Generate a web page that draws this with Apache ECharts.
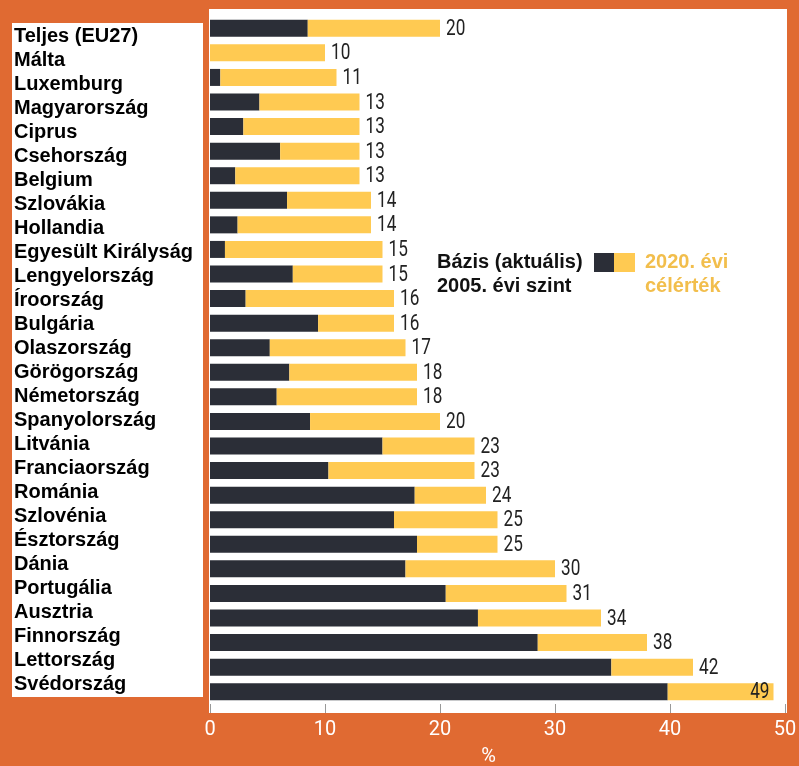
<!DOCTYPE html>
<html><head><meta charset="utf-8">
<script src="https://cdn.jsdelivr.net/npm/echarts@6/dist/echarts.min.js"></script>
<style>html,body{margin:0;padding:0;background:#E06A32;}#c{width:799px;height:766px;}</style>
</head><body><div id="c"></div>
<script>
const categories = ["Teljes (EU27)","Málta","Luxemburg","Magyarország","Ciprus","Csehország","Belgium","Szlovákia","Hollandia","Egyesült Királyság","Lengyelország","Íroország","Bulgária","Olaszország","Görögország","Németország","Spanyolország","Litvánia","Franciaország","Románia","Szlovénia","Észtország","Dánia","Portugália","Ausztria","Finnország","Lettország","Svédország"];
const base2005 = [8.5,0.0,0.9,4.3,2.9,6.1,2.2,6.7,2.4,1.3,7.2,3.1,9.4,5.2,6.9,5.8,8.7,15.0,10.3,17.8,16.0,18.0,17.0,20.5,23.3,28.5,34.9,39.8];
const target2020 = [20,10,11,13,13,13,13,14,14,15,15,16,16,17,18,18,20,23,23,24,25,25,30,31,34,38,42,49];
const xTicks = [0,10,20,30,40,50];

const DARK = '#2B2E37', YEL = '#FFCA52', ORANGE = '#E06A32';
const BOLD = '"Liberation Sans",Arial,sans-serif';
const chart = echarts.init(document.getElementById('c'));
const gap = target2020.map((t,i)=>+(t-base2005[i]).toFixed(2));
chart.setOption({
  backgroundColor: ORANGE,
  animation: false,
  graphic: [
    {type:'rect', shape:{x:209,y:9,width:578,height:704}, style:{fill:'#fff'}, z:-10},
    {type:'rect', shape:{x:12,y:23,width:191,height:674}, style:{fill:'#fff'}, z:-10},
    {type:'text', left:437, top:250, style:{text:'Bázis (aktuális)\n2005. évi szint', font:'bold 20px '+BOLD, fill:'#111', lineHeight:24}},
    {type:'rect', shape:{x:594,y:253,width:20,height:19}, style:{fill:DARK}},
    {type:'rect', shape:{x:614,y:253,width:21,height:19}, style:{fill:YEL}},
    {type:'text', left:645, top:250, style:{text:'2020. évi\ncélérték', font:'bold 20px '+BOLD, fill:'#F2BE4C', lineHeight:24}}
  ],
  grid: [
    {left:210, right:14, top:16, bottom:62, containLabel:false, outerBoundsMode:'none'},
    {left:14, width:190, top:25, bottom:70, containLabel:false, outerBoundsMode:'none'}
  ],
  xAxis: [
    {type:'value', gridIndex:0, min:0, max:50, interval:10,
     axisLine:{show:false}, splitLine:{show:false},
     axisTick:{show:true, length:9, lineStyle:{color:'#999'}},
     axisLabel:{color:'#fff', fontSize:20, fontFamily:'Roboto,sans-serif', margin:16,
       formatter:v=>xTicks.includes(v)?String(v):''},
     name:'%', nameLocation:'middle', nameGap:43, nameTextStyle:{color:'#fff', fontSize:20, fontFamily:'Roboto,sans-serif', padding:[0,18,0,0]}},
    {type:'value', gridIndex:1, show:false, min:0, max:1}
  ],
  yAxis: [
    {type:'category', gridIndex:0, data:categories, inverse:true,
     axisLine:{show:false}, axisTick:{show:false}, axisLabel:{show:false}},
    {type:'category', gridIndex:1, data:categories, inverse:true,
     axisLine:{show:false}, axisTick:{show:false},
     axisLabel:{show:true, interval:0, inside:true, align:'left', margin:0, color:'#000',
       fontSize:20, fontWeight:'bold', fontFamily:BOLD}}
  ],
  series: [
    {type:'bar', stack:'a', data:base2005, barWidth:17, itemStyle:{color:DARK}, silent:true},
    {type:'bar', stack:'a', data:gap, barWidth:17, itemStyle:{color:YEL}, silent:true},
    {type:'custom', silent:true, z:5,
     data: target2020.map((t,i)=>[t,i]),
     renderItem: function(params, api){
       const v = api.value(0), idx = api.value(1);
       const p = api.coord([v, idx]);
       const inside = p[0] + 30 > 787;
       return {type:'text', x: inside ? p[0]-4 : p[0]+6, y: p[1]+1, scaleX:0.78,
         style:{text:String(v), font:'22px Roboto,sans-serif', fill:'#222',
           textAlign: inside ? 'right':'left', textVerticalAlign:'middle'}};
     }}
  ]
});
</script></body></html>
